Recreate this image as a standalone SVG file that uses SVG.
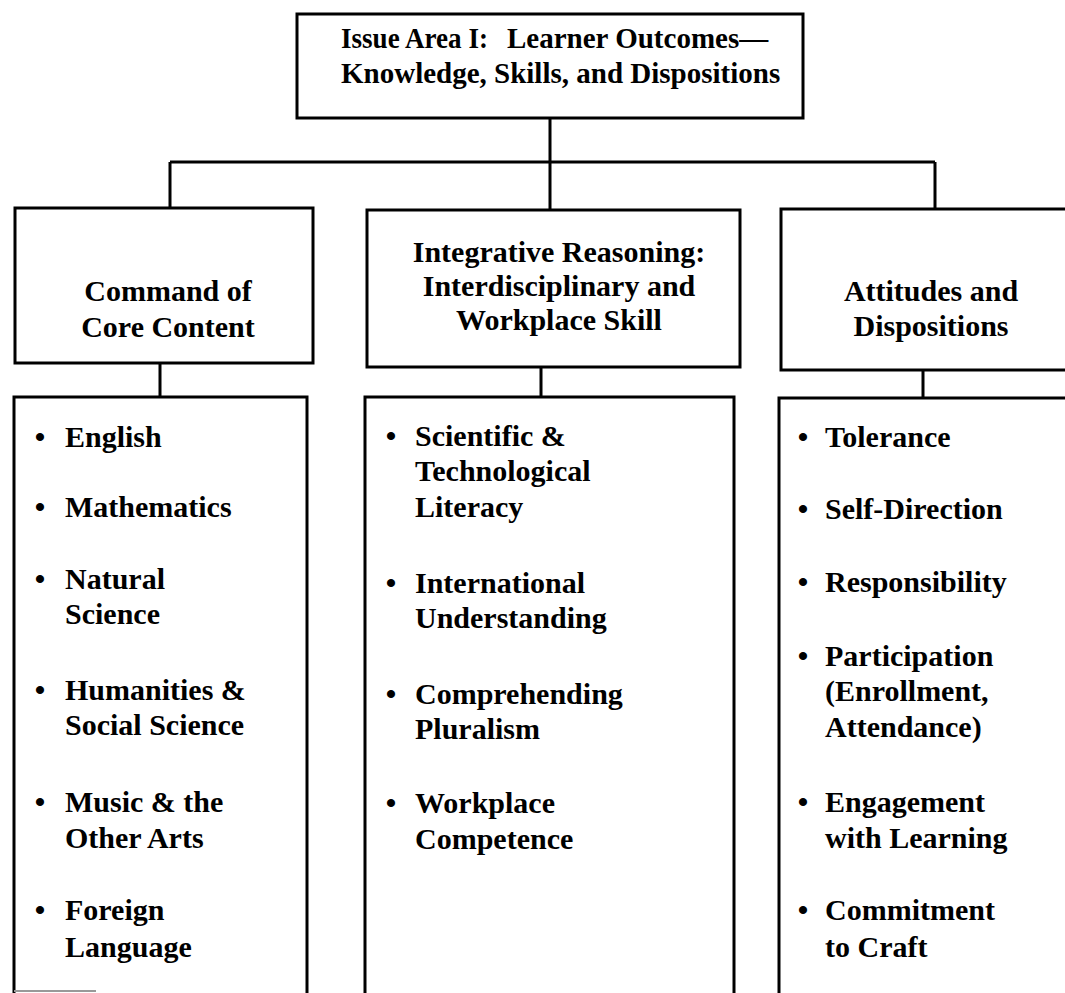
<svg xmlns="http://www.w3.org/2000/svg" width="1065" height="993" viewBox="0 0 1065 993">
<style>
.box{fill:#fff;stroke:#000;stroke-width:3}
.con{fill:none;stroke:#000;stroke-width:3}
text{font-family:"Liberation Serif","Times New Roman",serif;font-weight:bold;font-size:30px;fill:#000}
.c{text-anchor:middle}
.top{font-size:29px}
</style>
<rect width="1065" height="993" fill="#fff"/>
<g id="connectors">
<path class="con" d="M550,118 V210 M170,162 H935 M170,162 V208 M935,162 V209"/>
<path class="con" d="M160,363 V397 M541,367 V397 M923,370 V398"/>
</g>
<g id="top">
<rect class="box" x="297" y="14" width="506" height="104"/>
<text class="top" x="341" y="48" textLength="147" lengthAdjust="spacingAndGlyphs">Issue Area I:</text>
<text class="top" x="507" y="48">Learner Outcomes—</text>
<text class="top" x="341" y="83">Knowledge, Skills, and Dispositions</text>
</g>
<g id="core">
<rect class="box" x="15" y="208" width="298" height="155"/>
<text class="c" x="168" y="301">Command of</text>
<text class="c" x="168" y="337">Core Content</text>
</g>
<g id="integrative">
<rect class="box" x="367" y="210" width="373" height="157"/>
<text class="c" x="559" y="262">Integrative Reasoning:</text>
<text class="c" x="559" y="296">Interdisciplinary and</text>
<text class="c" x="559" y="330">Workplace Skill</text>
</g>
<g id="attitudes">
<rect class="box" x="781" y="209" width="300" height="161"/>
<text class="c" x="931" y="301">Attitudes and</text>
<text class="c" x="931" y="336">Dispositions</text>
</g>
<g id="core-list">
<rect class="box" x="14" y="397" width="293" height="620"/>
<text class="c" x="40" y="447">•</text><text x="65" y="447">English</text>
<text class="c" x="40" y="517">•</text><text x="65" y="517">Mathematics</text>
<text class="c" x="40" y="589">•</text><text x="65" y="589">Natural</text>
<text x="65" y="624">Science</text>
<text class="c" x="40" y="700">•</text><text x="65" y="700">Humanities &amp;</text>
<text x="65" y="735">Social Science</text>
<text class="c" x="40" y="812">•</text><text x="65" y="812">Music &amp; the</text>
<text x="65" y="848">Other Arts</text>
<text class="c" x="40" y="920">•</text><text x="65" y="920">Foreign</text>
<text x="65" y="957">Language</text>
</g>
<g id="integrative-list">
<rect class="box" x="365" y="397" width="369" height="620"/>
<text class="c" x="391" y="446">•</text><text x="415" y="446">Scientific &amp;</text>
<text x="415" y="481">Technological</text>
<text x="415" y="517">Literacy</text>
<text class="c" x="391" y="593">•</text><text x="415" y="593">International</text>
<text x="415" y="628">Understanding</text>
<text class="c" x="391" y="704">•</text><text x="415" y="704">Comprehending</text>
<text x="415" y="739">Pluralism</text>
<text class="c" x="391" y="813">•</text><text x="415" y="813">Workplace</text>
<text x="415" y="849">Competence</text>
</g>
<g id="attitudes-list">
<rect class="box" x="779" y="398" width="300" height="620"/>
<text class="c" x="803" y="447">•</text><text x="825" y="447">Tolerance</text>
<text class="c" x="803" y="519">•</text><text x="825" y="519">Self-Direction</text>
<text class="c" x="803" y="592">•</text><text x="825" y="592">Responsibility</text>
<text class="c" x="803" y="666">•</text><text x="825" y="666">Participation</text>
<text x="825" y="701">(Enrollment,</text>
<text x="825" y="737">Attendance)</text>
<text class="c" x="803" y="812">•</text><text x="825" y="812">Engagement</text>
<text x="825" y="848">with Learning</text>
<text class="c" x="803" y="920">•</text><text x="825" y="920">Commitment</text>
<text x="825" y="957">to Craft</text>
</g>
<line x1="14" y1="991" x2="96" y2="991" stroke="#999" stroke-width="2"/>
</svg>
